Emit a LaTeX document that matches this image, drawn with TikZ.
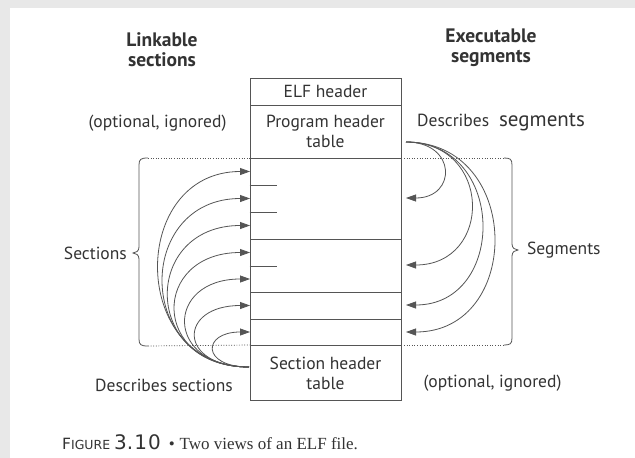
\documentclass[tikz,border=0pt]{standalone}
\usepackage{fontspec}
\setmainfont{PT Sans}
\newfontfamily\serifcap{Liberation Serif}
\newfontfamily\capsans{DejaVu Sans}
\usetikzlibrary{arrows.meta,calc}
\definecolor{ink}{HTML}{333333}
\definecolor{rule}{HTML}{555555}
\definecolor{pagegray}{HTML}{E8E8E8}
\tikzset{
  x=1pt, y=-1pt,
  lbl/.style={text=ink, font=\fontsize{17.5}{20}\selectfont, inner sep=0pt},
  head/.style={text=ink, inner sep=0pt, font=\fontsize{19.5}{20}\selectfont\bfseries, align=center},
  cell/.style={draw=rule, line width=0.8pt, minimum width=151pt, inner sep=0pt,
               anchor=north, text=ink, font=\fontsize{17.5}{20}\selectfont, align=center},
  tick/.style={draw=rule, line width=0.8pt},
  dotline/.style={draw=rule, line width=0.7pt, dash pattern=on 1pt off 1.6pt},
  bracepath/.style={draw=rule, line width=0.8pt},
  link/.style={draw=rule, line width=0.8pt, -{Triangle[length=10pt,width=7pt]}},
}
\begin{document}
\begin{tikzpicture}
  % page frame
  \fill[pagegray] (0,0) rectangle (635,458);
  \fill[white] (10,8) rectangle (635,458);
  \useasboundingbox (0,0) rectangle (635,458);

  % column headings
  \node[head] (hlink) at (162,50) {Linkable\\sections};
  \node[head] (hexec) at (491,48) {Executable\\segments};

  % the ELF file layout
  \node[cell, minimum height=27pt] (elf) at (325.5,78) {ELF header};
  \node[cell, minimum height=53pt] (pht) at (325.5,105) {Program header\\table};
  \node[cell, minimum height=81pt] (s1) at (325.5,158) {};
  \node[cell, minimum height=53pt] (s2) at (325.5,239) {};
  \node[cell, minimum height=27pt] (s3) at (325.5,292) {};
  \node[cell, minimum height=26pt] (s4) at (325.5,319) {};
  \node[cell, minimum height=55pt] (sht) at (325.5,345) {Section header\\table};

  % short partial dividers
  \draw[tick] ($(s1.north west)+(0,27)$) -- ++(27,0);
  \draw[tick] ($(s1.north west)+(0,54)$) -- ++(27,0);
  \draw[tick] ($(s2.north west)+(0,27)$) -- ++(27,0);

  % side labels
  \node[lbl] (optl) at (157.5,123) {(optional, ignored)};
  \node[lbl, anchor=west] (dseg) at (417,122)
    {Describes\hspace{10pt}{\fontsize{21}{20}\selectfont segments}};
  \node[lbl, anchor=east] (secl) at (127,253) {Sections};
  \node[lbl, anchor=west] (segl) at (527,250) {Segments};
  \node[lbl] (dsec) at (164,385) {Describes sections};
  \node[lbl] (optr) at (492.5,383) {(optional, ignored)};

  % left brace with dotted leaders
  \coordinate (lbt) at (148,158);
  \coordinate (lbb) at (148,346);
  \draw[bracepath] (lbt) .. controls (141,158) and (139,159) .. (139,165)
     -- (139,247) .. controls (139,251) and (136,253) .. (133,253)
     .. controls (136,253) and (139,255) .. (139,259)
     -- (139,339) .. controls (139,345) and (141,346) .. (lbb);
  \draw[dotline] (lbt) -- (s1.north west);
  \draw[dotline] (lbb) -- (sht.north west);

  % right brace with dotted leaders
  \coordinate (rbt) at (504,158);
  \coordinate (rbb) at (504,345);
  \draw[bracepath] (rbt) .. controls (510,158) and (512,159) .. (512,165)
     -- (512,244) .. controls (512,248) and (515,250) .. (518,250)
     .. controls (515,250) and (512,252) .. (512,256)
     -- (512,338) .. controls (512,344) and (510,345) .. (rbb);
  \draw[dotline] (s1.north east) -- (rbt);
  \draw[dotline] (sht.north east) -- (rbb);

  % section arrows from the section header table
  \coordinate (lsrc) at (249,367);
  \foreach \i/\yy/\a in {1/171.5/121, 2/198.5/115, 3/225.5/108, 4/252.5/99,
                         5/279/85, 6/305.5/72, 7/332/48} {
    \coordinate (lt\i) at (250,\yy);
    \draw[link] (lsrc) .. controls ($(lsrc)+(-\a,0)$) and ($(lt\i)+(-\a,0)$) .. (lt\i);
  }

  % segment arrows from the program header table
  \coordinate (rsrc) at (406,142);
  \foreach \i/\yy/\a in {1/198/51, 2/265/87, 3/305/101, 4/332/117} {
    \coordinate (rt\i) at (406,\yy);
    \draw[link] (rsrc) .. controls ($(rsrc)+(\a,0)$) and ($(rt\i)+(\a,0)$) .. (rt\i);
  }

  % caption
  \node[anchor=west, inner sep=0pt, text=ink] (cap) at (62,442)
    {{\capsans\fontsize{15.5}{15}\selectfont F\fontsize{12.5}{15}\selectfont IGURE}\hspace{4pt}%
     {\capsans\fontsize{20}{15}\selectfont 3.\hspace{1pt}1\hspace{1pt}0}\hspace{8pt}%
     {\serifcap\fontsize{17}{18}\selectfont\textbullet\hspace{5pt}Two views of an ELF file.}};
\end{tikzpicture}
\end{document}
